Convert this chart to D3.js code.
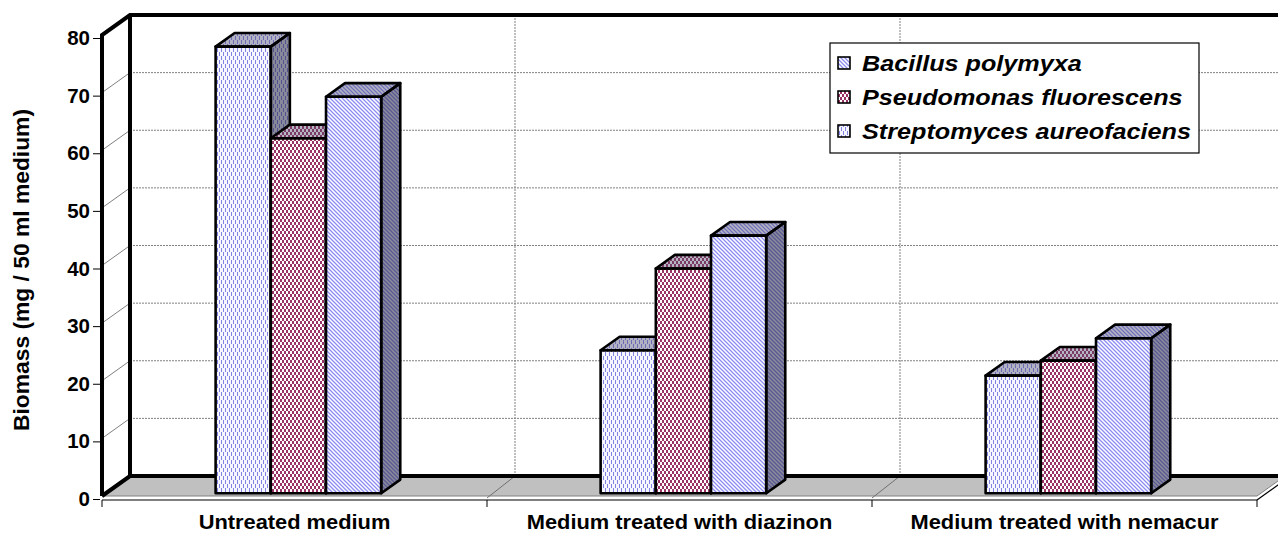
<!DOCTYPE html>
<html><head><meta charset="utf-8">
<script src="https://cdn.jsdelivr.net/npm/d3@7"></script>
<style>
html,body{margin:0;padding:0;background:#fff;}
svg{display:block;}
text{font-family:"Liberation Sans",Arial,Helvetica,sans-serif;}
</style>
</head><body>
<svg id="chart" width="1278" height="535"></svg>
<script>
// Biomass of three soil microbes in untreated and pesticide-treated media
const categories = ["Untreated medium", "Medium treated with diazinon", "Medium treated with nemacur"];
const seriesNames = ["Bacillus polymyxa", "Pseudomonas fluorescens", "Streptomyces aureofaciens"];
const bacillus = [77.5, 24.8, 20.4];
const pseudomonas = [61.6, 39.0, 23.0];
const streptomyces = [68.8, 44.7, 26.9];
const yTicks = [0, 10, 20, 30, 40, 50, 60, 70, 80];
const yTitle = "Biomass (mg / 50 ml medium)";

const seriesValues = [bacillus, pseudomonas, streptomyces];
const barPatterns = ["dash", "check", "diag"];
const legendPatterns = ["diag", "check", "dash"];

const W = 1278, H = 535;
const svg = d3.select("#chart");

// oblique 3-D box: depth shift of the back plane
const DX = 28, DY = 20, WALL_SHIFT = 3;
const D0 = 0.14, D1 = 0.82;           // bar front / back depth fractions

const x = d3.scaleBand().domain(categories).range([102, 1257]);
const y = d3.scaleLinear().domain([0, 80]).range([499, 38]);
const groupW = 165.6;
const x1 = d3.scaleBand().domain(seriesNames).range([0, groupW]);

function P(px, v, d) { return [px + d * DX, y(v) - WALL_SHIFT - d * DY]; }
const poly = pts => "M" + pts.map(p => p[0].toFixed(2) + "," + p[1].toFixed(2)).join("L") + "Z";

// fill patterns
const defs = svg.append("defs");
function makePattern(id, w, h, build) {
  const p = defs.append("pattern").attr("id", id).attr("patternUnits", "userSpaceOnUse")
    .attr("width", w).attr("height", h);
  build(p);
}
makePattern("dash", 4, 8, p => {
  p.append("rect").attr("width", 4).attr("height", 8).attr("fill", "#f6f6ff");
  p.append("path").attr("d", "M1.5,0V4M3.5,4V8")
    .attr("stroke", "#8282e4").attr("stroke-width", 1);
});
makePattern("check", 4, 6, p => {
  p.append("rect").attr("width", 4).attr("height", 6).attr("fill", "#993366");
  p.append("rect").attr("x", 0).attr("y", 0).attr("width", 2).attr("height", 3).attr("fill", "#ffffff");
  p.append("rect").attr("x", 2).attr("y", 3).attr("width", 2).attr("height", 3).attr("fill", "#ffffff");
});
makePattern("diag", 4, 4, p => {
  p.append("rect").attr("width", 4).attr("height", 4).attr("fill", "#ffffff");
  p.append("path").attr("d", "M-1,-1L5,5M-1,3L1,5M3,-1L5,1")
    .attr("stroke", "#8c8cf2").attr("stroke-width", 1.3);
});

// back wall
const backTL = P(x.range()[0], 80, 1), backBR = P(x.range()[1], 0, 1);
svg.append("rect").attr("x", backTL[0]).attr("y", backTL[1])
  .attr("width", W - backTL[0] + 20).attr("height", backBR[1] - backTL[1]).attr("fill", "#ffffff");

// back wall horizontal gridlines and side-wall diagonals
const grid = svg.append("g");
yTicks.filter(v => v > 0 && v < 80).forEach(v => {
  const b = P(x.range()[0], v, 1);
  grid.append("line").attr("x1", b[0]).attr("x2", W + 20).attr("y1", b[1]).attr("y2", b[1])
    .attr("stroke", "#808080").attr("stroke-width", 1).attr("stroke-dasharray", "2,1");
  const f = P(x.range()[0], v, 0);
  grid.append("line").attr("x1", f[0]).attr("y1", f[1]).attr("x2", b[0]).attr("y2", b[1])
    .attr("stroke", "#808080").attr("stroke-width", 1);
});
// category dividers on back wall
categories.slice(1).forEach(c => {
  const t = P(x(c), 80, 1), b = P(x(c), 0, 1);
  grid.append("line").attr("x1", t[0]).attr("x2", b[0]).attr("y1", t[1]).attr("y2", b[1])
    .attr("stroke", "#808080").attr("stroke-width", 1).attr("stroke-dasharray", "2,1");
});

// floor
const fl = [P(x.range()[0], 0, 0), P(x.range()[1], 0, 0), P(x.range()[1], 0, 1), P(x.range()[0], 0, 1)];
svg.append("path").attr("d", poly(fl)).attr("fill", "#c0c0c0").attr("stroke", "#808080").attr("stroke-width", 1);
// floor slab front edge
const slabF = y(0) + 1;
svg.append("line").attr("x1", x.range()[0]).attr("x2", x.range()[1]).attr("y1", slabF).attr("y2", slabF)
  .attr("stroke", "#000").attr("stroke-width", 1.2);
svg.append("line").attr("x1", x.range()[1]).attr("y1", slabF).attr("x2", x.range()[1] + DX).attr("y2", slabF - DY)
  .attr("stroke", "#000").attr("stroke-width", 1.2);
// floor dividers
categories.slice(1).forEach(c => {
  const a = P(x(c), 0, 0), b = P(x(c), 0, 1);
  svg.append("line").attr("x1", a[0]).attr("y1", a[1] + 2).attr("x2", b[0]).attr("y2", b[1])
    .attr("stroke", "#707070").attr("stroke-width", 1);
});
// x boundary ticks
[...categories.map(c => x(c)), x.range()[1]].forEach(px => {
  svg.append("line").attr("x1", px).attr("x2", px).attr("y1", slabF).attr("y2", slabF + 7)
    .attr("stroke", "#000").attr("stroke-width", 1);
});

// heavy frame of the walls
const frame = svg.append("g").attr("fill", "none").attr("stroke", "#000").attr("stroke-width", 4)
  .attr("stroke-linejoin", "miter");
const fTop = P(x.range()[0], 80, 0), fBot = P(x.range()[0], 0, 0);
const bTop = P(x.range()[0], 80, 1), bBot = P(x.range()[0], 0, 1);
frame.append("path").attr("d", `M${fBot[0]},${fBot[1]}L${fTop[0]},${fTop[1]}L${bTop[0]},${bTop[1]}L${W + 20},${bTop[1]}`);
frame.append("path").attr("d", `M${fBot[0]},${fBot[1]}L${bBot[0]},${bBot[1]}L${W + 20},${bBot[1]}`);
frame.append("path").attr("d", `M${bTop[0]},${bTop[1]}L${bBot[0]},${bBot[1]}`);

// bars
const bars = svg.append("g");
categories.forEach((c, ci) => {
  const g0 = x(c) + (x.bandwidth() - groupW) / 2;
  seriesNames.forEach((s, si) => {
    const v = seriesValues[si][ci];
    const xl = g0 + x1(s), xr = xl + x1.bandwidth();
    const front = [P(xl, 0, D0), P(xr, 0, D0), P(xr, v, D0), P(xl, v, D0)];
    const top = [P(xl, v, D0), P(xr, v, D0), P(xr, v, D1), P(xl, v, D1)];
    const side = [P(xr, 0, D0), P(xr, 0, D1), P(xr, v, D1), P(xr, v, D0)];
    const pat = `url(#${barPatterns[si]})`;
    const bg = bars.append("g");
    bg.append("path").attr("d", poly(side)).attr("fill", pat);
    bg.append("path").attr("d", poly(side)).attr("fill", "#2e2e48").attr("fill-opacity", 0.55);
    bg.append("path").attr("d", poly(top)).attr("fill", pat);
    bg.append("path").attr("d", poly(top)).attr("fill", "#4a4a68").attr("fill-opacity", 0.4);
    bg.append("path").attr("d", poly(front)).attr("fill", pat);
    [side, top, front].forEach(f => bg.append("path").attr("d", poly(f)).attr("fill", "none")
      .attr("stroke", "#000").attr("stroke-width", 2.6).attr("stroke-linejoin", "round"));
  });
});

// y axis
const yAxis = svg.append("g").attr("transform", `translate(100,0)`)
  .call(d3.axisLeft(y).tickValues(yTicks).tickSize(7).tickPadding(3));
yAxis.select(".domain").remove();
yAxis.selectAll("line").attr("stroke", "#000");
yAxis.selectAll("text").attr("font-size", 20.5).attr("font-weight", "bold").attr("fill", "#000")
  .attr("font-family", '"Liberation Sans",Arial,sans-serif');

// x axis category labels
const xAxis = svg.append("g").attr("transform", `translate(0,${slabF})`)
  .call(d3.axisBottom(x).tickSize(0).tickPadding(14));
xAxis.select(".domain").remove();
xAxis.selectAll("text").attr("font-size", 21).attr("font-weight", "bold").attr("fill", "#000")
  .attr("font-family", '"Liberation Sans",Arial,sans-serif')
  .attr("transform", "scale(1.04,1)");

// y title
svg.append("text").attr("transform", "translate(29,270) rotate(-90)")
  .attr("text-anchor", "middle").attr("font-size", 22).attr("font-weight", "bold")
  .attr("textLength", 322).attr("lengthAdjust", "spacingAndGlyphs").text(yTitle);

// legend
const lg = svg.append("g").attr("transform", "translate(830,43)");
lg.append("rect").attr("width", 369).attr("height", 110).attr("fill", "#fff")
  .attr("stroke", "#000").attr("stroke-width", 1.2);
seriesNames.forEach((s, i) => {
  const cy = 20 + i * 34;
  lg.append("rect").attr("x", 8).attr("y", cy - 6).attr("width", 12).attr("height", 12)
    .attr("fill", `url(#${legendPatterns[i]})`).attr("stroke", "#000").attr("stroke-width", 1.6);
  lg.append("text").attr("transform", `translate(32,${cy}) scale(1.12,1)`).attr("dy", "0.36em")
    .attr("font-size", 22.5).attr("font-weight", "bold").attr("font-style", "italic").text(s);
});
</script>
</body></html>
